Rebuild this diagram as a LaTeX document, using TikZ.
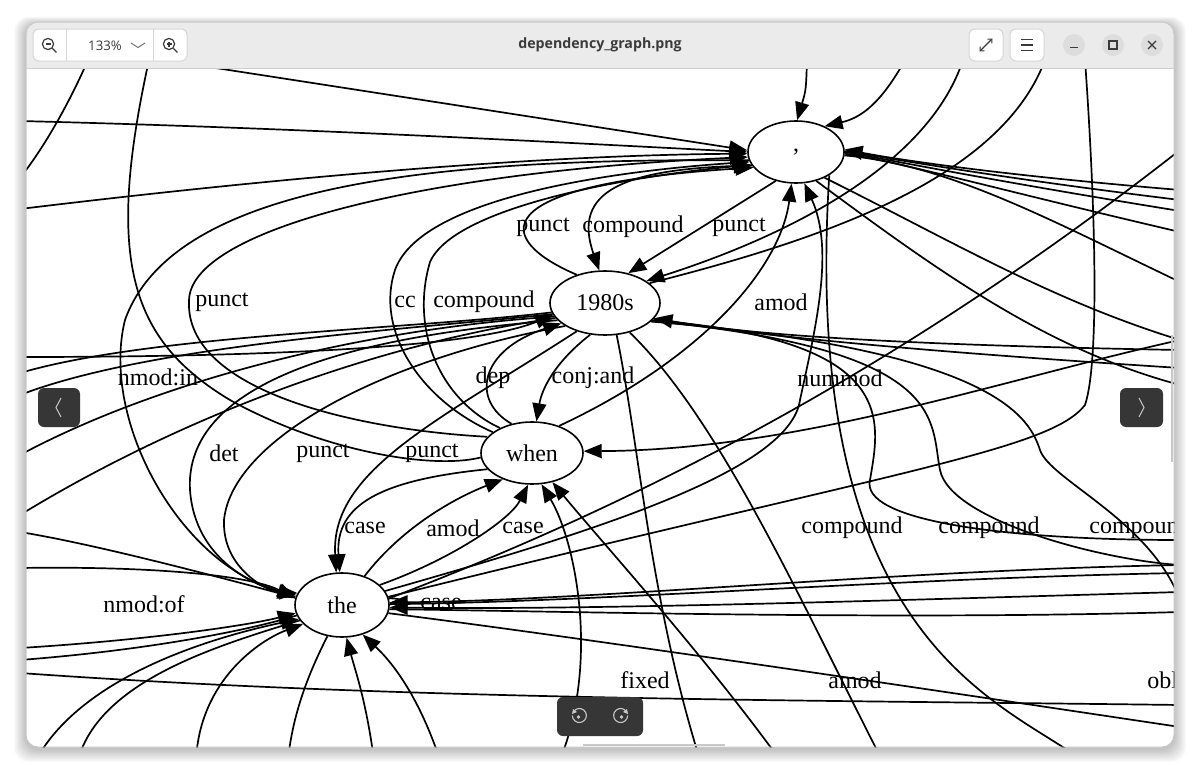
\documentclass[tikz,border=0pt]{standalone}
\usepackage{fontspec}
\setmainfont{Liberation Serif}
\newfontfamily\uifont{Open Sans}
\usetikzlibrary{shapes.geometric,arrows.meta}
\definecolor{tbar}{HTML}{EBEBEB}
\definecolor{tline}{HTML}{CFCFCF}
\definecolor{btnb}{HTML}{D6D6D6}
\definecolor{circ}{HTML}{DDDDDD}
\definecolor{dark}{HTML}{363636}
\definecolor{icon}{HTML}{3A3A3A}
\definecolor{lite}{HTML}{C8C8C8}
\tikzset{
  edg/.style={line width=0.85pt, black},
  arr/.style={-{Triangle[length=9pt,width=7pt]}},
  nd/.style={ellipse, draw, line width=0.8pt, inner sep=0pt, fill=none, font=\fontsize{12}{14}\selectfont},
  lbl/.style={inner sep=0pt, font=\fontsize{12}{14}\selectfont},
  ui/.style={inner sep=0pt, font=\uifont\fontsize{6.6}{8}\selectfont, text=icon},
}
\begin{document}
\begin{tikzpicture}[x=0.5pt,y=-0.5pt]
\useasboundingbox (0,0) rectangle (1200,776);
\fill[white] (0,0) rectangle (1200,776);
% shadow
\foreach \i in {1,...,12}{
  \fill[black,opacity=0.018,rounded corners=7pt] (26-\i,22-\i*0.6+2) rectangle (1174+\i,747+\i*1.1+2);
}
% window
\fill[white,rounded corners=6pt] (26,22) rectangle (1174,747);
\fill[tbar,rounded corners=6pt] (26,22) rectangle (1174,80);
\fill[white] (26,68) rectangle (1174,90);

% ================= graph ==================
\begin{scope}
\clip (26,69) rectangle (1174,747);

\node[nd,minimum width=48pt,minimum height=31pt] (C) at (796,152) {,};
\node[nd,minimum width=55pt,minimum height=32pt] (Y) at (605,303) {1980s};
\node[nd,minimum width=51pt,minimum height=31pt] (W) at (532,453) {when};
\node[nd,minimum width=47pt,minimum height=32pt] (T) at (342,605) {the};

% free end points
\coordinate (t1) at (807,60);
\coordinate (t2) at (905,60);
\coordinate (t3) at (190,64);
\coordinate (t4) at (963,60);
\coordinate (t5) at (1045,60);
\coordinate (t6) at (1085,60);
\coordinate (t7) at (149,60);
\coordinate (t0) at (88,60);
\coordinate (l0) at (20,178);
\coordinate (l1) at (20,121);
\coordinate (l2) at (20,209);
\coordinate (l4) at (20,357);
\coordinate (l5) at (20,373);
\coordinate (l6) at (20,455);
\coordinate (l7) at (20,515);
\coordinate (l9) at (20,568);
\coordinate (l10) at (20,532);
\coordinate (l11) at (20,648);
\coordinate (l12) at (20,660);
\coordinate (l13) at (20,673);
\coordinate (l14) at (20,395);
\coordinate (r1) at (1180,190);
\coordinate (r2) at (1180,200);
\coordinate (r3) at (1180,211);
\coordinate (r4) at (1180,232);
\coordinate (r5) at (1180,282);
\coordinate (r6) at (1180,340);
\coordinate (r7) at (1180,385);
\coordinate (r8) at (1180,368);
\coordinate (r9) at (1180,350);
\coordinate (r10) at (1180,565);
\coordinate (r11) at (1180,573);
\coordinate (r12) at (1180,592);
\coordinate (r13) at (1180,612);
\coordinate (r14) at (1180,705);
\coordinate (r15) at (1180,727);
\coordinate (r16) at (1180,150);
\coordinate (r17) at (1180,540);
\coordinate (r18) at (1180,600);
\coordinate (b1) at (36,760);
\coordinate (b2) at (78,760);
\coordinate (b3) at (374,760);
\coordinate (b4) at (440,760);
\coordinate (b5) at (288,760);
\coordinate (b6) at (780,760);
\coordinate (b7) at (700,760);
\coordinate (b8) at (882,760);
\coordinate (b9) at (196,760);
\coordinate (b10) at (560,760);
\coordinate (b11) at (1082,760);

% ---- into ","
\draw[edg,arr] (t1) .. controls (806,90) .. (C.88);
\draw[edg,arr] (t2) .. controls (880,105) and (860,118) .. (C.42);
\draw[edg,arr] (t3) -- (C.178);
\draw[edg,arr] (l1) .. controls (300,128) and (550,142) .. (C.180);
\draw[edg,arr] (l2) .. controls (300,175) and (550,155) .. (C.182);
\draw[edg] (l0) .. controls (50,140) and (75,90) .. (t0);
% punct (big left loop) when -> ,
\draw[edg,arr] (W.160) .. controls (360,430) and (185,392) .. (189,301) .. controls (189,230) and (420,172) .. (C.186);
% curve via x~120 down to the
\draw[edg,arr] (C.190) .. controls (450,158) and (175,180) .. (125,320) .. controls (100,420) and (180,565) .. (T.168);
% curve from top x~149 down
\draw[edg] (t7) .. controls (105,260) and (130,340) .. (230,400) .. controls (320,450) and (430,470) .. (W.185);
% cc and compound
\draw[edg,arr] (W.152) .. controls (420,400) and (375,330) .. (395,270) .. controls (420,200) and (600,172) .. (C.192);
\draw[edg,arr] (W.142) .. controls (440,400) and (410,330) .. (430,262) .. controls (455,205) and (640,175) .. (C.196);
% 1980s punct loop
\draw[edg,arr] (Y.135) .. controls (495,240) and (480,185) .. (C.200);
% compound , -> 1980s
\draw[edg,arr] (C.197) .. controls (620,168) and (572,192) .. (Y.100);
% punct , -> 1980s
\draw[edg,arr] (C.235) -- (Y.52);
% from top right into 1980s
\draw[edg,arr] (t4) .. controls (930,160) and (800,232) .. (Y.28);
\draw[edg] (t5) .. controls (1000,180) and (820,240) .. (Y.24);
% right side into ","
\draw[edg,arr] (r1) .. controls (1000,175) and (900,160) .. (C.3);
\draw[edg] (r2) .. controls (1000,178) and (900,160) .. (C.1);
\draw[edg] (r3) .. controls (1000,182) and (900,162) .. (C.0);
\draw[edg] (r4) .. controls (1000,190) and (900,162) .. (C.358);
\draw[edg] (r5) .. controls (1050,220) and (950,165) .. (C.356);
% out of "," to the right/down
\draw[edg] (C.318) .. controls (950,240) and (1050,300) .. (r6);
\draw[edg] (C.305) .. controls (950,280) and (1050,350) .. (r7);
% nummod
\draw[edg,arr] (T.18) .. controls (600,530) and (790,470) .. (800,400) .. controls (815,330) and (835,250) .. (C.285);
% amod when -> ,
\draw[edg,arr] (W.45) .. controls (700,360) and (780,270) .. (C.262);
% long vertical from top right
\draw[edg] (t6) .. controls (1095,200) and (1100,360) .. (1085,405) .. controls (1050,450) and (900,470) .. (T.10);
% compound diagonals from upper right
\draw[edg] (r16) .. controls (950,330) and (700,480) .. (T.8);
% into when from the right
\draw[edg,arr] (r6) .. controls (1000,380) and (800,450) .. (W.2);

% ---- into 1980s from left
\draw[edg,arr] (l4) .. controls (300,357) and (480,345) .. (Y.193);
\draw[edg] (l5) .. controls (150,335) and (400,330) .. (Y.190);
\draw[edg] (l14) .. controls (150,345) and (400,330) .. (Y.192);
\draw[edg] (l6) .. controls (150,385) and (350,330) .. (Y.195);
\draw[edg] (l7) .. controls (200,405) and (400,340) .. (Y.197);
% into 1980s from right
\draw[edg,arr] (r9) .. controls (900,345) and (750,335) .. (Y.343);
\draw[edg] (r8) .. controls (900,350) and (750,335) .. (Y.342);
\draw[edg] (Y.340) .. controls (900,340) and (880,420) .. (870,480) .. controls (860,520) and (1000,540) .. (r17);
\draw[edg] (Y.339) .. controls (950,350) and (930,420) .. (940,470) .. controls (950,520) and (1100,560) .. (r10);
\draw[edg] (Y.338) .. controls (1000,350) and (1030,420) .. (1040,450) .. controls (1050,480) and (1150,520) .. (r18);

% ---- 1980s <-> when
\draw[edg,arr] (W.125) .. controls (470,400) and (480,350) .. (Y.205);
\draw[edg,arr] (Y.245) .. controls (545,370) and (540,400) .. (W.82);
\draw[edg] (Y.290) .. controls (640,450) and (650,600) .. (b7);
\draw[edg] (Y.310) .. controls (720,420) and (800,600) .. (b8);

% ---- into the
\draw[edg,arr] (Y.200) .. controls (300,340) and (185,400) .. (190,490) .. controls (195,560) and (255,585) .. (T.170);
\draw[edg,arr] (Y.210) .. controls (380,360) and (232,440) .. (224,520) .. controls (222,570) and (270,592) .. (T.165);
\draw[edg,arr] (Y.225) .. controls (440,420) and (330,470) .. (T.100);
\draw[edg,arr] (W.200) .. controls (380,480) and (335,505) .. (T.94);
\draw[edg,arr] (l9) .. controls (150,566) and (250,575) .. (T.172);
\draw[edg] (l10) .. controls (100,545) and (230,580) .. (T.171);
\draw[edg,arr] (l11) .. controls (150,640) and (250,625) .. (T.190);
\draw[edg] (l12) .. controls (150,650) and (250,630) .. (T.193);
\draw[edg,arr] (b1) .. controls (80,680) and (200,640) .. (T.198);
\draw[edg] (b2) .. controls (100,680) and (220,645) .. (T.200);
\draw[edg,arr] (b9) .. controls (200,680) and (260,640) .. (T.206);
\draw[edg,arr] (b3) .. controls (366,700) and (355,670) .. (T.278);
\draw[edg,arr] (b4) .. controls (420,700) and (395,665) .. (T.305);
\draw[edg] (T.245) .. controls (305,680) and (292,720) .. (b5);
\draw[edg] (l13) .. controls (400,700) and (800,700) .. (r14);
% from right into the
\draw[edg,arr] (r10) .. controls (900,570) and (600,600) .. (T.3);
\draw[edg] (r11) .. controls (900,578) and (600,602) .. (T.1);
\draw[edg,arr] (r12) .. controls (900,600) and (600,610) .. (T.357);
\draw[edg] (r13) .. controls (900,620) and (600,612) .. (T.355);
\draw[edg] (r15) .. controls (1000,700) and (600,640) .. (T.350);
% the <-> when
\draw[edg,arr] (T.52) .. controls (400,530) and (450,500) .. (W.222);
\draw[edg,arr] (T.28) .. controls (450,560) and (510,520) .. (W.263);
\draw[edg,arr] (b6) .. controls (700,650) and (600,540) .. (W.305);
\draw[edg,arr] (b10) .. controls (600,660) and (575,540) .. (W.287);
\draw[edg] (T.8) .. controls (395,598) and (410,600) .. (T.2);
\draw[edg] (b11) .. controls (1000,700) and (800,640) .. (C.325);

% labels
\node[lbl] (n1) at (543,227) {punct};
\node[lbl] (n2) at (633,227) {compound};
\node[lbl] (n3) at (739,227) {punct};
\node[lbl] (n4) at (222,302) {punct};
\node[lbl] (n5) at (405,302) {cc};
\node[lbl] (n6) at (484,302) {compound};
\node[lbl] (n7) at (781,302) {amod};
\node[lbl] (n8) at (158,377) {nmod:in};
\node[lbl] (n9) at (493,378) {dep};
\node[lbl] (n10) at (593,378) {conj:and};
\node[lbl] (n11) at (840,378) {nummod};
\node[lbl] (n12) at (224,453) {det};
\node[lbl] (n13) at (323,453) {punct};
\node[lbl] (n14) at (432,453) {punct};
\node[lbl] (n15) at (365,528) {case};
\node[lbl] (n16) at (453,528) {amod};
\node[lbl] (n17) at (523,528) {case};
\node[lbl] (n18) at (852,528) {compound};
\node[lbl] (n19) at (989,528) {compound};
\node[lbl,anchor=west] (n20) at (1089,528) {compound};
\node[lbl] (n21) at (144,604) {nmod:of};
\node[lbl] (n22) at (441,604) {case};
\node[lbl] (n23) at (645,680) {fixed};
\node[lbl] (n24) at (855,680) {amod};
\node[lbl,anchor=west] (n25) at (1147,680) {obl};
\end{scope}

% ================= chrome ==================
\draw[tline,line width=0.6pt] (26,68.5) -- (1174,68.5);
\draw[lite,line width=0.5pt,rounded corners=6pt] (26,22) rectangle (1174,747);
% zoom group
\draw[btnb,fill=white,line width=0.5pt,rounded corners=3pt] (33,29) rectangle (187,61);
\draw[btnb,line width=0.5pt] (66,29) -- (66,61) (153,29) -- (153,61);
\node[circle,draw=icon,line width=0.6pt,minimum size=5.6pt,inner sep=0pt] (zo) at (48,44) {};
\draw[icon,line width=0.6pt] (zo.315) -- ++(4,4);
\draw[icon,line width=0.6pt] (45.5,44) -- (50.5,44);
\node[circle,draw=icon,line width=0.6pt,minimum size=5.6pt,inner sep=0pt] (zi) at (169,44) {};
\draw[icon,line width=0.6pt] (zi.315) -- ++(4,4);
\draw[icon,line width=0.6pt] (166.5,44) -- (171.5,44) (169,41.5) -- (169,46.5);
\node[ui] (pct) at (105,45.5) {133\%};
\draw[icon!70,line width=0.5pt] (131,43) -- (138,47.5) -- (145,43);
% title
\node[ui,font=\uifont\bfseries\fontsize{7.1}{8}\selectfont] (title) at (600,45) {dependency\_graph.png};
% buttons
\draw[btnb,fill=white,line width=0.5pt,rounded corners=3pt] (969,29) rectangle (1003,61);
\draw[btnb,fill=white,line width=0.5pt,rounded corners=3pt] (1010,29) rectangle (1044,61);
\draw[icon,line width=0.55pt,{Straight Barb[length=1.6pt,width=3pt]}-{Straight Barb[length=1.6pt,width=3pt]}] (979.5,51.5) -- (992.5,38.5);
\draw[icon,line width=0.6pt] (1021,39.5) -- (1033,39.5) (1021,45) -- (1033,45) (1021,50.5) -- (1033,50.5);
\fill[circ] (1074,45) circle[radius=5.5pt];
\fill[circ] (1113,45) circle[radius=5.5pt];
\fill[circ] (1152,45) circle[radius=5.5pt];
\draw[icon,line width=0.6pt] (1070,47.5) -- (1078,47.5);
\draw[icon,line width=0.6pt] (1109,41) rectangle (1117,49);
\draw[icon,line width=0.6pt] (1148,41) -- (1156,49) (1148,49) -- (1156,41);
% nav buttons
\fill[dark,rounded corners=3pt] (38,388) rectangle (80,427);
\draw[lite,line width=0.5pt] (61,398) -- (56,407.5) -- (61,417);
\fill[dark,rounded corners=3pt] (1120,388) rectangle (1163,427);
\draw[lite,line width=0.5pt] (1139,398) -- (1144,407.5) -- (1139,417);
% bottom toolbar
\fill[dark,rounded corners=3pt] (557,697) rectangle (643,736);
\draw[lite,line width=0.55pt] (574,711) arc[start angle=140,end angle=-180,radius=3.5pt];
\fill[lite] (573,709) -- (577,712) -- (572,714) -- cycle;
\fill[lite] (578.5,717) circle[radius=0.9pt];
\draw[lite,line width=0.55pt] (626,711) arc[start angle=40,end angle=360,radius=3.5pt];
\fill[lite] (627,709) -- (623,712) -- (628,714) -- cycle;
\fill[lite] (621.5,717) circle[radius=0.9pt];
% scroll indicators
\draw[lite,line width=1pt] (583,745) -- (725,745);
\draw[lite,line width=1pt] (1172,335) -- (1172,462);
\end{tikzpicture}
\end{document}
